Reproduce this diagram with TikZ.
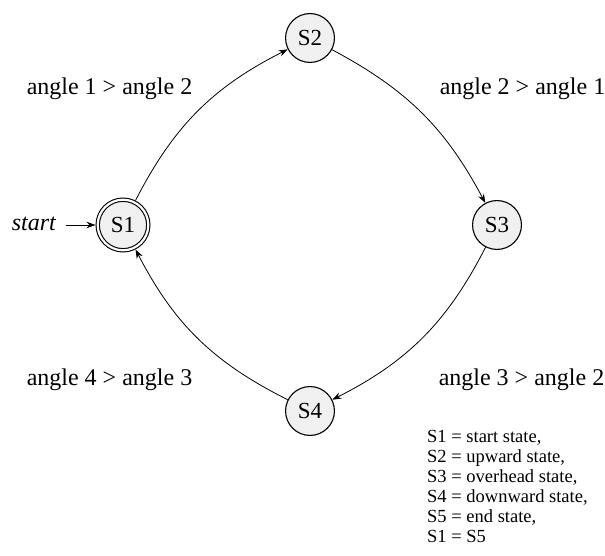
\documentclass[tikz,border=0pt]{standalone}
\usepackage{fontspec}
\setmainfont{Liberation Serif}
\usetikzlibrary{arrows.meta}
\begin{document}
\begin{tikzpicture}[x=1pt,y=-1pt,
  stbox/.style={circle,draw,line width=1.1pt,fill=black!6,minimum size=48.9pt,inner sep=0pt,font=\fontsize{23}{27}\selectfont},
  accbox/.style={stbox,double,double distance=2.2pt,minimum size=50.6pt,outer sep=2.2pt},
  edge/.style={-{Stealth[length=9pt,width=6.5pt]},line width=0.8pt},
  lbl/.style={font=\fontsize{24}{28}\selectfont,anchor=base,inner sep=0pt}]
\useasboundingbox (0,0) rectangle (605,556);
\node[accbox] (S1) at (123,225) {S1};
\node[stbox] (S2) at (310,38) {S2};
\node[stbox] (S3) at (497,225) {S3};
\node[stbox] (S4) at (310,411) {S4};
\node[lbl,anchor=base east,font=\fontsize{24}{28}\selectfont\itshape] (start) at (56,231) {start};
\coordinate (st0) at (66,225);
\draw[edge] (st0) -- (S1);
\draw[edge] (S1) to[bend left=18] (S2);
\draw[edge] (S2) to[bend left=17] (S3);
\draw[edge] (S3) to[bend left=18] (S4);
\draw[edge] (S4) to[bend left=18] (S1);
\node[lbl] (l12) at (109.5,95) {angle 1 > angle 2};
\node[lbl] (l21) at (522.5,95) {angle 2 > angle 1};
\node[lbl] (l32) at (521.5,385) {angle 3 > angle 2};
\node[lbl] (l43) at (109.5,385) {angle 4 > angle 3};
\node[anchor=north west,inner sep=0pt,align=left,font=\fontsize{18.5}{20}\selectfont] (legend) at (427,430)
  {S1 = start state,\\ S2 = upward state,\\ S3 = overhead state,\\ S4 = downward state,\\ S5 = end state,\\ S1 = S5};
\end{tikzpicture}
\end{document}
